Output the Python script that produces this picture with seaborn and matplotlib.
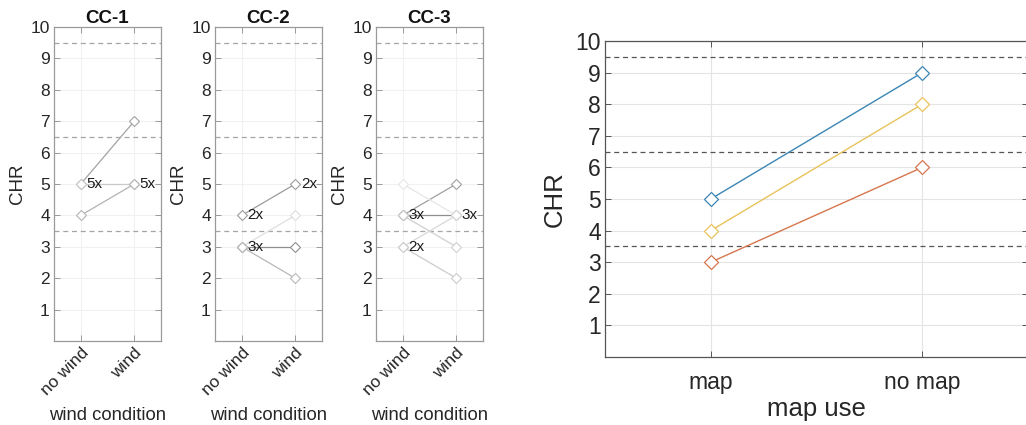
import pandas as pd
import matplotlib
matplotlib.use("Agg")
import matplotlib.pyplot as plt
import seaborn as sns

# ── data ───────────────────────────────────────────────────────────────
WIND_LEVELS = ["no wind", "wind"]
MAP_LEVELS = ["map", "no map"]
Y_TICKS = [1, 2, 3, 4, 5, 6, 7, 8, 9, 10]
THRESHOLDS = [3.5, 6.5, 9.5]

PANEL_TITLES = ["CC-1", "CC-2", "CC-3"]

# each pair: CHR without wind -> CHR with wind, plus a gray shade for how often it occurred
cc1_start = [5, 5, 4]
cc1_end = [7, 5, 5]
cc1_shade = ["#a3a3a3", "#c9c9c9", "#b3b3b3"]

cc2_start = [4, 3, 3, 3]
cc2_end = [5, 4, 3, 2]
cc2_shade = ["#9c9c9c", "#dedede", "#8f8f8f", "#b8b8b8"]

cc3_start = [4, 4, 4, 5, 3, 3]
cc3_end = [5, 4, 3, 4, 4, 2]
cc3_shade = ["#a0a0a0", "#8f8f8f", "#cfcfcf", "#e6e6e6", "#d8d8d8", "#cbcbcb"]

# frequency labels: (condition, CHR, text)
cc1_notes = [("no wind", 5, "5x"), ("wind", 5, "5x")]
cc2_notes = [("no wind", 4, "2x"), ("wind", 5, "2x"), ("no wind", 3, "3x")]
cc3_notes = [("no wind", 4, "3x"), ("wind", 4, "3x"), ("no wind", 3, "2x")]

# right panel: mean CHR per cluster with / without map
map_series = ["blue", "yellow", "red"]
map_values = [5, 4, 3]
nomap_values = [9, 8, 6]
series_colors = {"blue": "#3a86b4", "yellow": "#e8c25a", "red": "#d6764e"}

sns.set_style("white")
plt.rcParams["font.family"] = ["Liberation Sans", "DejaVu Sans"]
TXT = "#262626"


def pairs_frame(start, end, shade):
    rows = []
    for i, (a, b) in enumerate(zip(start, end)):
        rows.append({"pair": i, "cond": WIND_LEVELS[0], "CHR": a})
        rows.append({"pair": i, "cond": WIND_LEVELS[1], "CHR": b})
    df = pd.DataFrame(rows)
    palette = {i: c for i, c in enumerate(shade)}
    return df, palette


def hollow_markers(ax):
    # seaborn paints marker edges white; give them the line colour instead
    for ln in ax.lines:
        ln.set_markeredgecolor(ln.get_color())
        ln.set_markerfacecolor("white")


def style_axes(ax, spine_col, dash_col, grid_col, tick_size):
    ax.set_ylim(0, 10)
    ax.set_xlim(-0.5, 1.5)
    ax.set_yticks(Y_TICKS)
    ax.grid(True, color=grid_col, linewidth=0.8)
    ax.set_axisbelow(True)
    for y in THRESHOLDS:
        ax.axhline(y, color=dash_col, linestyle=(0, (4, 3)), linewidth=0.9, zorder=1)
    for s in ax.spines.values():
        s.set_visible(True)
        s.set_color(spine_col)
        s.set_linewidth(0.9)
    ax.tick_params(direction="in", length=4, width=0.7, color=spine_col,
                   top=True, right=True, bottom=True, left=True,
                   labelsize=tick_size, labelcolor=TXT, pad=3)


fig = plt.figure(figsize=(10.26, 4.25), dpi=100)

panels = [
    (cc1_start, cc1_end, cc1_shade, cc1_notes),
    (cc2_start, cc2_end, cc2_shade, cc2_notes),
    (cc3_start, cc3_end, cc3_shade, cc3_notes),
]
lefts = [54, 215, 376]

for left, title, (st, en, sh, notes) in zip(lefts, PANEL_TITLES, panels):
    ax = fig.add_axes([left / 1026, 84 / 425, 107 / 1026, 314 / 425])
    df, pal = pairs_frame(st, en, sh)
    sns.lineplot(data=df, x="cond", y="CHR", hue="pair", units="pair",
                 estimator=None, palette=pal, marker="D", markersize=5,
                 markeredgewidth=0.8, linewidth=0.9, legend=False, ax=ax, zorder=3)
    hollow_markers(ax)
    style_axes(ax, "#9a9a9a", "#a5a5a5", "#f1f1f1", 12.5)
    ax.set_xticks([0, 1])
    ax.set_xticklabels(WIND_LEVELS, rotation=45, ha="right", rotation_mode="anchor")
    for cond, y, t in notes:
        ax.annotate(t, (WIND_LEVELS.index(cond), y), xytext=(4, 0),
                    textcoords="offset points", ha="left", va="center",
                    fontsize=11, color="#1a1a1a", zorder=5)
    ax.set_title(title, fontsize=13.5, fontweight="bold", color="#111111", pad=3)
    ax.set_xlabel("wind condition", fontsize=13.3, color=TXT, labelpad=6)
    ax.set_ylabel("CHR", fontsize=13.5, color=TXT, labelpad=3)

# ── right panel ──
rows = []
for s, a, b in zip(map_series, map_values, nomap_values):
    rows.append({"series": s, "use": MAP_LEVELS[0], "CHR": a})
    rows.append({"series": s, "use": MAP_LEVELS[1], "CHR": b})
map_df = pd.DataFrame(rows)

axr = fig.add_axes([605 / 1026, 68 / 425, 423 / 1026, 316 / 425])
sns.lineplot(data=map_df, x="use", y="CHR", hue="series", units="series",
             estimator=None, palette=series_colors, marker="D", markersize=7,
             markeredgewidth=0.9, linewidth=1.0, legend=False, ax=axr, zorder=3)
hollow_markers(axr)
style_axes(axr, "#555555", "#555555", "#e4e4e4", 16.5)
axr.set_xticks([0, 1])
axr.set_xticklabels(MAP_LEVELS)
axr.tick_params(axis="x", pad=10)
axr.set_xlabel("map use", fontsize=18.5, color=TXT, labelpad=2)
axr.set_ylabel("CHR", fontsize=18.5, color=TXT, labelpad=6)

fig.savefig("out.png", dpi=100)
